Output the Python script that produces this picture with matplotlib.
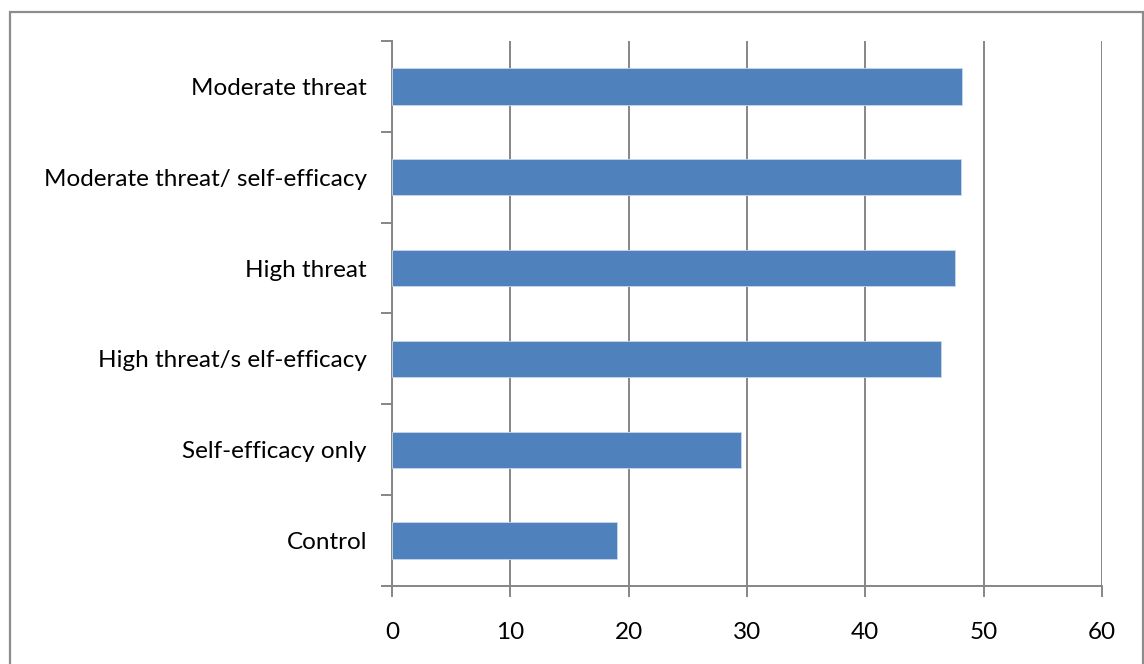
import matplotlib.pyplot as plt
from matplotlib.patches import Rectangle

# groups listed bottom to top
groups = ['Control', 'Self-efficacy only', 'High threat/s elf-efficacy',
          'High threat', 'Moderate threat/ self-efficacy', 'Moderate threat']
scores = [19.0, 29.5, 46.4, 47.6, 48.1, 48.2]
x_ticks = [0, 10, 20, 30, 40, 50, 60]

plt.rcParams['font.family'] = ['Lato', 'DejaVu Sans']

fig = plt.figure(figsize=(11.44, 6.64), dpi=100)
ax = fig.add_axes([392 / 1144, 1 - 586 / 664, 710 / 1144, 545 / 664])

grid_col = '#868686'
ax.barh(range(len(groups)), scores, height=0.4, color='#4F81BD',
        edgecolor='#C9D7EA', linewidth=0.6, zorder=3)

ax.set_xlim(0, 60)
ax.set_ylim(-0.5, len(groups) - 0.5)
ax.set_xticks(x_ticks)
ax.set_xticklabels([str(t) for t in x_ticks])
ax.set_yticks(range(len(groups)))
ax.set_yticklabels(groups)
# category separators on the value axis
ax.set_yticks([i - 0.5 for i in range(len(groups) + 1)], minor=True)

ax.xaxis.grid(True, color=grid_col, linewidth=1.4, zorder=0)
ax.tick_params(axis='y', which='major', length=0, pad=18, labelsize=17.5)
ax.tick_params(axis='y', which='minor', length=8, width=1.4, color=grid_col)
ax.tick_params(axis='x', length=8, width=1.4, color=grid_col, pad=18,
               labelsize=17.5)

for side in ['top', 'right']:
    ax.spines[side].set_visible(False)
for side in ['left', 'bottom']:
    ax.spines[side].set_color(grid_col)
    ax.spines[side].set_linewidth(1.4)

# chart area frame
fig.patches.append(Rectangle((10 / 1144, -0.05), 1133 / 1144, 1.05 - 12 / 664,
                             transform=fig.transFigure, fill=False,
                             edgecolor='#8C8C8C', linewidth=1.6))

fig.savefig('out.png', dpi=100, facecolor='white')
